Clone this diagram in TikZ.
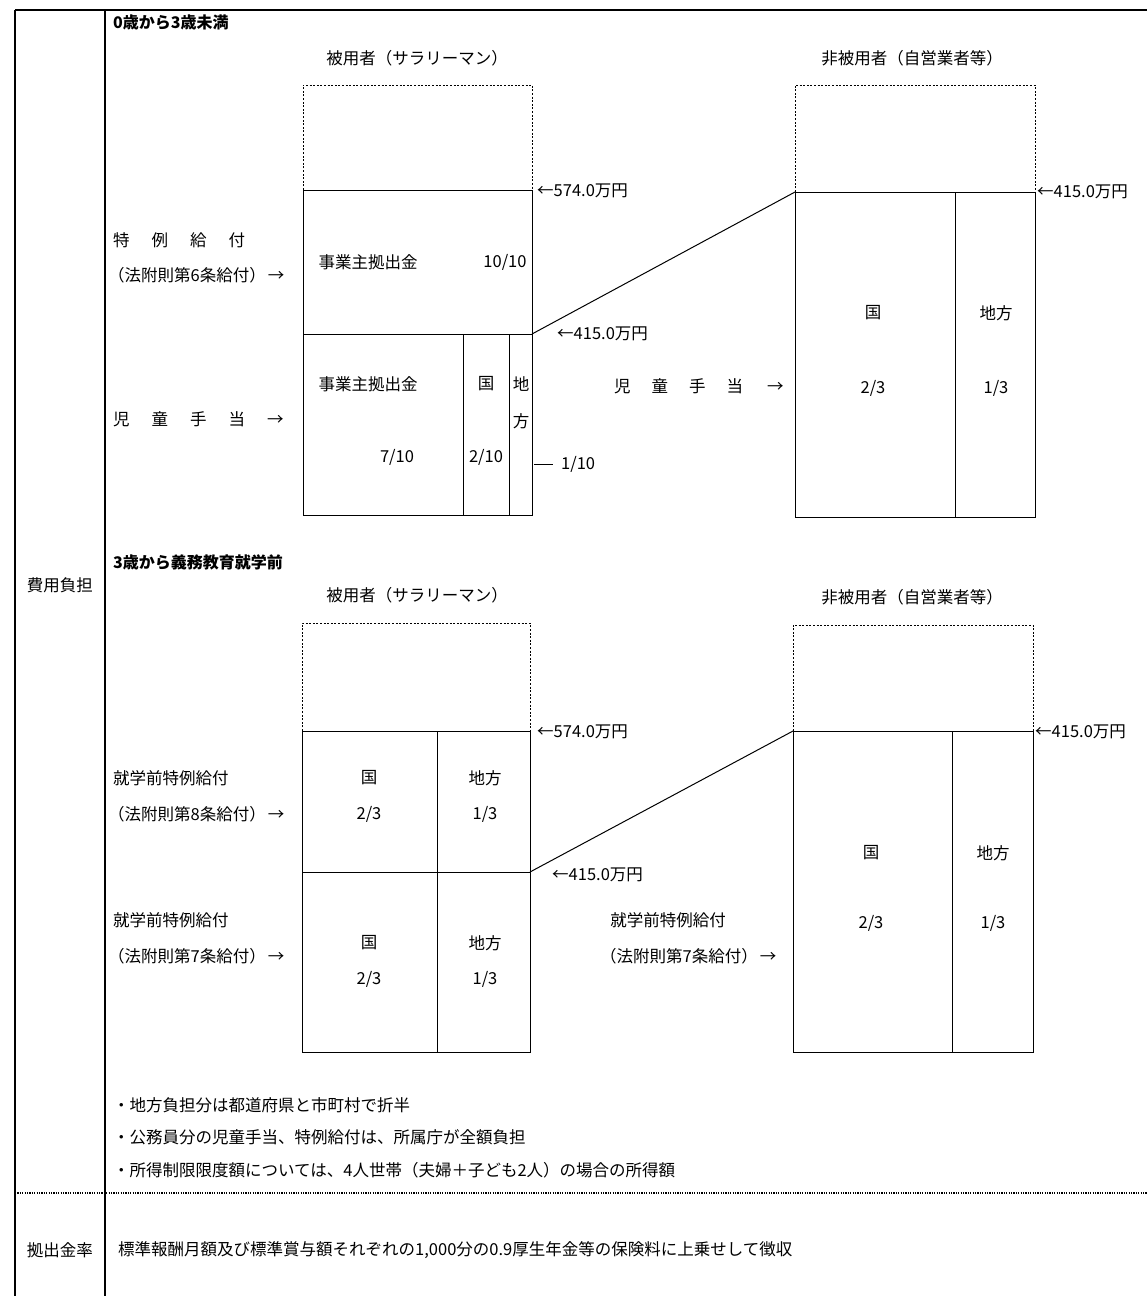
\documentclass[tikz,border=0pt]{standalone}
\usepackage{fontspec}
\setmainfont{Noto Sans CJK JP}
\begin{document}
\begin{tikzpicture}[x=1pt,y=-1pt,
  every node/.style={font=\fontsize{16.5}{19}\selectfont, inner sep=0pt},
  head/.style={font=\fontsize{16}{19}\selectfont\bfseries},
  box/.style={draw=black, line width=1pt},
  dotbox/.style={draw=black, line width=0.9pt, dash pattern=on 2pt off 1.6pt},
  frame/.style={draw=black, line width=1.1pt},
  sep/.style={draw=black, line width=1.1pt, dash pattern=on 1.2pt off 1.2pt}]
\useasboundingbox (0,0) rectangle (1147,1296);
% frame
\draw[frame, line width=1.6pt] (15,10) -- (1147,10);
\draw[frame] (15,10) -- (15,1296);
\draw[frame] (105,10) -- (105,1296);
\draw[sep] (15,1193) -- (1147,1193);
\node (costlbl) at (60,585) {費用負担};
\node (ratelbl) at (60,1250) {拠出金率};
\node[anchor=west] (ratetxt) at (118,1250) {標準報酬月額及び標準賞与額それぞれの1,000分の0.9厚生年金等の保険料に上乗せして徴収};

% ===== section 1 =====
\node[head, anchor=west] (h1) at (113,22) {0歳から3歳未満};
% left (employee)
\node (t1L) at (417,58) {被用者（サラリーマン）};
\draw[dotbox] (303,190) -- (303,85) -- (532,85) -- (532,190);
\draw[box] (303,190) rectangle (532,515);
\draw[box] (303,334) -- (532,334);
\draw[box] (463,334) -- (463,515);
\draw[box] (509,334) -- (509,515);
\coordinate (L1mid) at (532,334);
\node (a1) at (368,262) {事業主拠出金};
\node (a2) at (505,262) {10/10};
\node (a3) at (368,384) {事業主拠出金};
\node (a4) at (397,457) {7/10};
\node (a5) at (486,384) {国};
\node (a6) at (486,457) {2/10};
\node (a7) at (521,384) {地};
\node (a8) at (521,421) {方};
\coordinate (c110) at (534,464);
\coordinate (c110e) at (553,464);
\node[anchor=west] (a9) at (561,464) {1/10};
\draw[box] (c110) -- (c110e);
\node[anchor=west] (v574a) at (537,191) {←574.0万円};
\node[anchor=west] (v415a) at (557,334) {←415.0万円};
\node[anchor=west] (lb1) at (113,240) {特\hspace{22pt}例\hspace{22pt}給\hspace{22pt}付};
\node[anchor=west] (lb2) at (108,275) {（法附則第6条給付）\hspace{2pt}→};
\node[anchor=west] (lb3) at (113,419) {児\hspace{22pt}童\hspace{22pt}手\hspace{22pt}当\hspace{22pt}→};
% right (non-employee)
\node (t1R) at (912,58) {非被用者（自営業者等）};
\draw[dotbox] (795,192) -- (795,85) -- (1035,85) -- (1035,192);
\draw[box] (795,192) rectangle (1035,517);
\draw[box] (955,192) -- (955,517);
\coordinate (R1top) at (795,192);
\draw[box] (L1mid) -- (R1top);
\node (b1) at (873,313) {国};
\node (b2) at (873,388) {2/3};
\node (b3) at (996,313) {地方};
\node (b4) at (996,388) {1/3};
\node[anchor=west] (v415b) at (1037,192) {←415.0万円};
\node[anchor=west] (lb4) at (614,386) {児\hspace{21pt}童\hspace{21pt}手\hspace{21pt}当\hspace{24pt}→};

% ===== section 2 =====
\node[head, anchor=west] (h2) at (113,562) {3歳から義務教育就学前};
\node (t2L) at (417,595) {被用者（サラリーマン）};
\draw[dotbox] (302,731) -- (302,623) -- (530,623) -- (530,731);
\draw[box] (302,731) rectangle (530,1052);
\draw[box] (302,872) -- (530,872);
\draw[box] (437,731) -- (437,1052);
\coordinate (L2mid) at (530,872);
\node (d1) at (369,778) {国};
\node (d2) at (369,814) {2/3};
\node (d3) at (485,778) {地方};
\node (d4) at (485,814) {1/3};
\node (d5) at (369,943) {国};
\node (d6) at (369,979) {2/3};
\node (d7) at (485,943) {地方};
\node (d8) at (485,979) {1/3};
\node[anchor=west] (v574c) at (537,732) {←574.0万円};
\node[anchor=west] (v415c) at (552,875) {←415.0万円};
\node[anchor=west] (lb5) at (113,778) {就学前特例給付};
\node[anchor=west] (lb6) at (108,814) {（法附則第8条給付）\hspace{2pt}→};
\node[anchor=west] (lb7) at (113,920) {就学前特例給付};
\node[anchor=west] (lb8) at (108,956) {（法附則第7条給付）\hspace{2pt}→};
% right
\node (t2R) at (912,597) {非被用者（自営業者等）};
\draw[dotbox] (793,731) -- (793,625) -- (1033,625) -- (1033,731);
\draw[box] (793,731) rectangle (1033,1052);
\draw[box] (952,731) -- (952,1052);
\coordinate (R2top) at (793,731);
\draw[box] (L2mid) -- (R2top);
\node (e1) at (871,853) {国};
\node (e2) at (871,923) {2/3};
\node (e3) at (993,853) {地方};
\node (e4) at (993,923) {1/3};
\node[anchor=west] (v415d) at (1035,732) {←415.0万円};
\node (lb9) at (668,920) {就学前特例給付};
\node[anchor=west] (lb10) at (600,956) {（法附則第7条給付）\hspace{2pt}→};

% notes
\node[anchor=west] (n1) at (113,1105) {・地方負担分は都道府県と市町村で折半};
\node[anchor=west] (n2) at (113,1137) {・公務員分の児童手当、特例給付は、所属庁が全額負担};
\node[anchor=west] (n3) at (113,1170) {・所得制限限度額については、4人世帯（夫婦＋子ども2人）の場合の所得額};
\end{tikzpicture}
\end{document}
